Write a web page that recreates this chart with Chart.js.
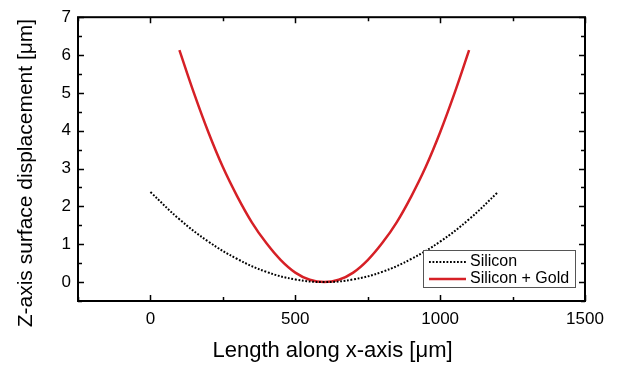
<!DOCTYPE html>
<html>
<head>
<meta charset="utf-8">
<script src="https://cdn.jsdelivr.net/npm/chart.js@4/dist/chart.umd.min.js"></script>
<style>
html,body{margin:0;padding:0;background:#fff;}
#wrap{width:624px;height:366px;position:relative;}
</style>
</head>
<body>
<div id="wrap"><canvas id="c" width="624" height="366"></canvas></div>
<script>
// Data
const siliconX = [0, 100, 200, 300, 400, 500, 600, 700, 800, 900, 1000, 1100, 1200];
const siliconY = [2.38, 1.66, 1.07, 0.61, 0.27, 0.07, 0.00, 0.07, 0.27, 0.61, 1.07, 1.66, 2.38];
const goldX = [100, 150, 200, 250, 300, 350, 400, 450, 500, 550, 600, 650, 700, 750, 800, 850, 900, 950, 1000, 1050, 1100];
const goldY = [6.13, 5.00, 3.96, 3.04, 2.26, 1.58, 1.03, 0.58, 0.25, 0.06, 0.00, 0.06, 0.25, 0.58, 1.03, 1.58, 2.26, 3.04, 3.96, 5.00, 6.13];
const seriesNames = ['Silicon', 'Silicon + Gold'];
const xLabels = [0, 500, 1000, 1500];
const yLabels = [0, 1, 2, 3, 4, 5, 6, 7];
const xTitle = 'Length along x-axis [\u03BCm]';
const yTitle = 'Z-axis surface displacement [\u03BCm]';

const FONT = "'Liberation Sans', Arial, sans-serif";
const RED = 'rgb(214,32,38)';

const frameTicks = {
  id: 'frameTicks',
  afterDraw(chart) {
    const ctx = chart.ctx, a = chart.chartArea;
    const xs = chart.scales.x, ys = chart.scales.y;
    ctx.save();
    ctx.strokeStyle = '#000';
    ctx.lineWidth = 1.5;
    xs.ticks.forEach(t => {
      const px = Math.round(xs.getPixelForValue(t.value)) + 0.5;
      const major = xLabels.includes(t.value);
      const len = major ? 6 : 4;
      ctx.beginPath();
      ctx.moveTo(px, a.bottom); ctx.lineTo(px, a.bottom - len);
      ctx.moveTo(px, a.top); ctx.lineTo(px, a.top + len);
      ctx.stroke();
    });
    ys.ticks.forEach(t => {
      const py = Math.round(ys.getPixelForValue(t.value)) + 0.5;
      const major = yLabels.includes(t.value);
      const len = major ? 6 : 4;
      ctx.beginPath();
      ctx.moveTo(a.left, py); ctx.lineTo(a.left + len, py);
      ctx.moveTo(a.right, py); ctx.lineTo(a.right - len, py);
      ctx.stroke();
    });
    ctx.lineWidth = 2;
    ctx.strokeRect(a.left, a.top, a.right - a.left, a.bottom - a.top);

    // axis titles
    ctx.fillStyle = '#000';
    ctx.textBaseline = 'alphabetic';
    ctx.textAlign = 'center';
    ctx.font = '22px ' + FONT;
    ctx.fillText(xTitle, (a.left + a.right) / 2 + 1, 357);
    ctx.save();
    ctx.translate(32, (a.top + a.bottom) / 2 + 14);
    ctx.rotate(-Math.PI / 2);
    ctx.font = '21px ' + FONT;
    ctx.fillText(yTitle, 0, 0);
    ctx.restore();

    // legend box inside plot area
    const ds = chart.data.datasets;
    const bx = a.right - 162, by = a.bottom - 51, bw = 152, bh = 37;
    ctx.lineWidth = 1;
    ctx.strokeStyle = '#555';
    ctx.fillStyle = '#fff';
    ctx.fillRect(bx, by, bw, bh);
    ctx.strokeRect(bx + 0.5, by + 0.5, bw, bh);
    ctx.font = '16px ' + FONT;
    ctx.textAlign = 'left';
    ctx.textBaseline = 'middle';
    ds.forEach((d, i) => {
      const ly = by + 12 + i * 17;
      ctx.beginPath();
      ctx.strokeStyle = d.borderColor;
      ctx.lineWidth = d.borderWidth;
      ctx.setLineDash(d.borderDash || []);
      ctx.moveTo(bx + 6, ly); ctx.lineTo(bx + 43, ly);
      ctx.stroke();
      ctx.setLineDash([]);
      ctx.fillStyle = '#000';
      ctx.fillText(d.label, bx + 47, ly);
    });
    ctx.restore();
  }
};

new Chart(document.getElementById('c'), {
  type: 'line',
  data: {
    datasets: [
      {
        label: seriesNames[0],
        data: siliconX.map((x, i) => ({x: x, y: siliconY[i]})),
        borderColor: '#000',
        borderWidth: 2,
        borderDash: [1.8, 1.7],
        pointRadius: 0,
        tension: 0.4,
        fill: false
      },
      {
        label: seriesNames[1],
        data: goldX.map((x, i) => ({x: x, y: goldY[i]})),
        borderColor: RED,
        borderWidth: 2.5,
        pointRadius: 0,
        tension: 0.4,
        fill: false
      }
    ]
  },
  options: {
    responsive: false,
    animation: false,
    layout: {padding: {top: 12, right: 39, left: 0, bottom: 0}},
    plugins: {legend: {display: false}, tooltip: {enabled: false}},
    scales: {
      x: {
        type: 'linear',
        min: -250, max: 1500,
        grid: {display: false, drawTicks: false},
        border: {display: false},
        ticks: {
          stepSize: 250,
          padding: 8,
          color: '#000',
          font: {family: FONT, size: 17},
          maxRotation: 0,
          autoSkip: false,
          callback: v => xLabels.includes(v) ? String(v) : ''
        },
        title: {display: false},
        afterFit: s => { s.height = 65; }
      },
      y: {
        type: 'linear',
        min: -0.5, max: 7,
        grid: {display: false, drawTicks: false},
        border: {display: false},
        ticks: {
          stepSize: 0.5,
          padding: 7,
          color: '#000',
          font: {family: FONT, size: 17},
          autoSkip: false,
          callback: v => yLabels.includes(v) ? String(v) : ''
        },
        title: {display: false},
        afterFit: s => { s.width = 78; }
      }
    }
  },
  plugins: [frameTicks]
});
</script>
</body>
</html>
